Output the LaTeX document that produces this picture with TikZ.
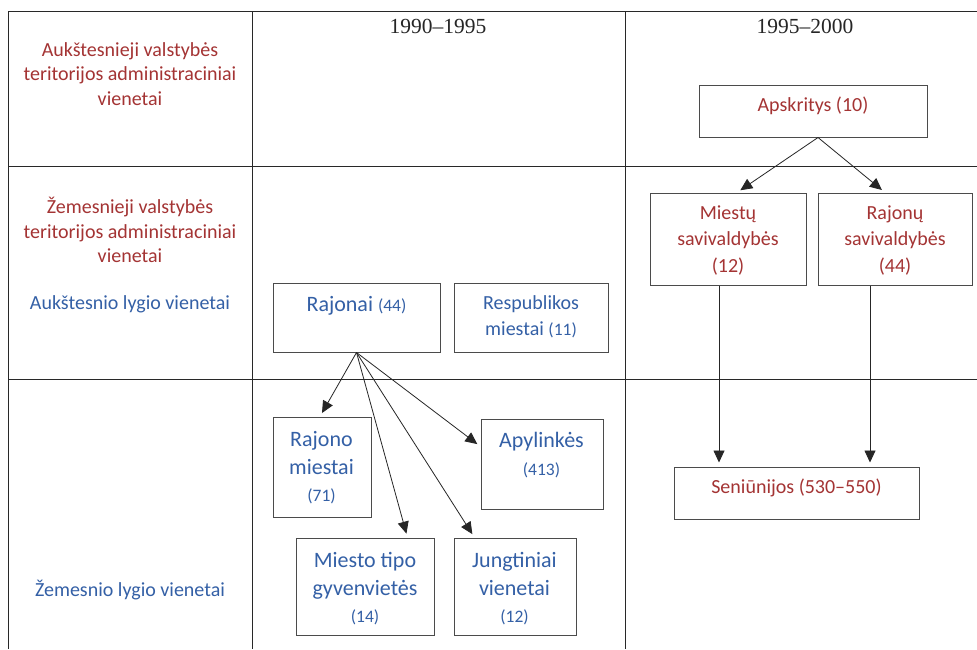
\documentclass[tikz,border=0pt]{standalone}
\usepackage{fontspec}
\setmainfont{Carlito}
\newfontfamily\timesfont{Liberation Serif}
\usetikzlibrary{arrows.meta,calc}
\definecolor{redtxt}{RGB}{164,52,52}
\definecolor{bluetxt}{RGB}{52,96,166}
\definecolor{gridc}{RGB}{40,40,40}
\definecolor{boxc}{RGB}{75,75,75}
\newcommand\cnt[1]{{\fontsize{17.5}{20}\selectfont #1}}
\begin{document}
\begin{tikzpicture}[x=1pt,y=-1pt,
  gridline/.style={draw=gridc, line width=1pt},
  box/.style={draw=boxc, line width=1pt, inner sep=0pt, fill=none},
  txt/.style={inner sep=0pt, align=center, font=\fontsize{20}{24.5}\selectfont},
  redt/.style={txt, text=redtxt, font=\fontsize{20}{26.5}\selectfont},
  bluet/.style={txt, text=bluetxt, font=\fontsize{22}{27.5}\selectfont},
  leftred/.style={txt, text=redtxt},
  leftblue/.style={txt, text=bluetxt},
  hdr/.style={inner sep=0pt, text=black!85, font=\timesfont\fontsize{21.5}{24}\selectfont},
  arr/.style={-{Triangle[length=12pt,width=11pt]}, draw=black!85, line width=0.8pt, shorten >=4pt}
]
\useasboundingbox (0,0) rectangle (977,649);
\fill[white] (0,0) rectangle (977,649);

% table grid
\draw[gridline] (8,11) -- (977,11);
\draw[gridline] (8,166) -- (977,166);
\draw[gridline] (8,379) -- (977,379);
\draw[gridline] (8,11) -- (8,649);
\draw[gridline] (252,11) -- (252,649);
\draw[gridline] (625,11) -- (625,649);

% headers
\node[hdr] (h1) at (438,26) {1990–1995};
\node[hdr] (h2) at (805,26) {1995–2000};

% left column
\node[leftred] (l1) at (130,74) {Aukštesnieji valstybės\\teritorijos administraciniai\\vienetai};
\node[leftred] (l2) at (130,230) {Žemesnieji valstybės\\teritorijos administraciniai\\vienetai};
\node[leftblue] (l3) at (130,304) {Aukštesnio lygio vienetai};
\node[leftblue] (l4) at (130,590) {Žemesnio lygio vienetai};

% boxes 1995-2000
\node[box, minimum width=228pt, minimum height=52pt] (apsk) at (813,111) {};
\node[box, minimum width=156pt, minimum height=92pt] (miestu) at (728,239) {};
\node[box, minimum width=154pt, minimum height=92pt] (rajonu) at (895,239) {};
\node[box, minimum width=245pt, minimum height=52pt] (seni) at (796.5,493) {};

\node[redt] (tapsk) at (813,106) {Apskritys (10)};
\node[redt] (tmiestu) at (728,240) {Miestų\\savivaldybės\\(12)};
\node[redt] (trajonu) at (895,240) {Rajonų\\savivaldybės\\(44)};
\node[redt] (tseni) at (796.5,488) {Seniūnijos (530–550)};

% boxes 1990-1995
\node[box, minimum width=167pt, minimum height=69pt] (rajonai) at (356.5,317.5) {};
\node[box, minimum width=154pt, minimum height=69pt] (resp) at (531,317.5) {};
\node[box, minimum width=98pt, minimum height=100pt] (rmiest) at (322,467) {};
\node[box, minimum width=122pt, minimum height=90pt] (apyl) at (542,464) {};
\node[box, minimum width=138pt, minimum height=97pt] (mtipo) at (365,586.5) {};
\node[box, minimum width=122pt, minimum height=97pt] (jung) at (515,586.5) {};

\node[bluet] (trajonai) at (356.5,306) {Rajonai \cnt{(44)}};
\node[txt, text=bluetxt, font=\fontsize{20}{26}\selectfont] (tresp) at (531,317) {Respublikos\\miestai \cnt{(11)}};
\node[bluet] (trmiest) at (321.5,468) {Rajono\\miestai\\\cnt{(71)}};
\node[bluet] (tapyl) at (541.5,455) {Apylinkės\\\cnt{(413)}};
\node[bluet] (tmtipo) at (365,589) {Miesto tipo\\gyvenvietės\\\cnt{(14)}};
\node[bluet] (tjung) at (514.5,589) {Jungtiniai\\vienetai\\\cnt{(12)}};

% connectors
\draw[arr] ([xshift=5pt]apsk.south) -- ([xshift=9pt]miestu.north);
\draw[arr] ([xshift=5pt]apsk.south) -- ([xshift=-10pt]rajonu.north);
\draw[arr] ([xshift=-9pt]miestu.south) -- ([xshift=-9pt]miestu.south |- seni.north);
\draw[arr] ([xshift=-25pt]rajonu.south) -- ([xshift=-25pt]rajonu.south |- seni.north);

\draw[arr] (rajonai.south) -- ([xshift=-2pt]rmiest.north);
\draw[arr] (rajonai.south) -- ($(mtipo.north east)+(-27,0)$);
\draw[arr] (rajonai.south) -- ($(jung.north west)+(21,0)$);
\draw[arr] (rajonai.south) -- ($(apyl.north west)+(0,28)$);
\end{tikzpicture}
\end{document}
